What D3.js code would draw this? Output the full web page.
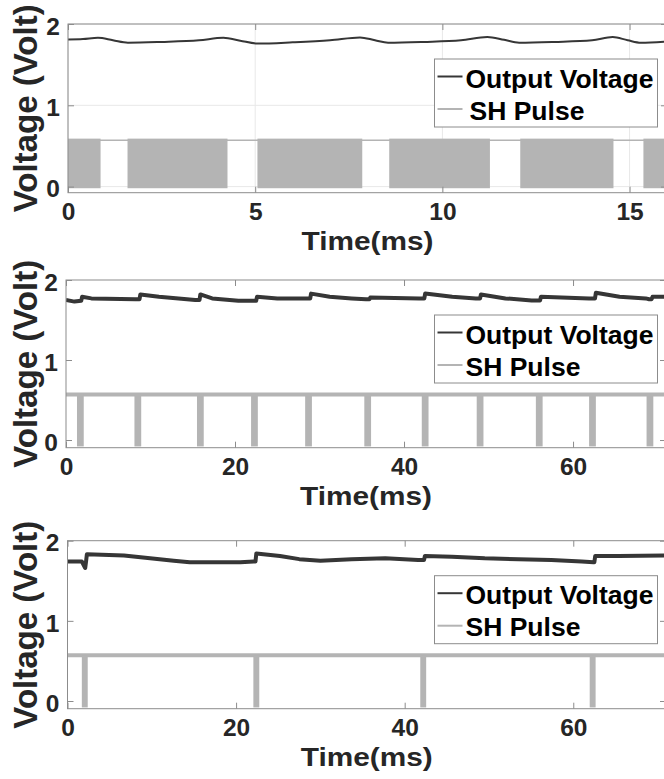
<!DOCTYPE html>
<html>
<head>
<meta charset="utf-8">
<script src="https://cdn.jsdelivr.net/npm/d3@7"></script>
<style>
    body { margin: 0; background: #fff; }
    text { font-family: "Liberation Sans", Arial, sans-serif; font-weight: bold; }
</style>
</head>
<body>
<svg width="664" height="779"></svg>
<script>
// ---- data ----
const legendLabels = ["Output Voltage", "SH Pulse"]
const yTicks = [0, 1, 2]
const xTicks1 = [0, 5, 10, 15]
const xTicks2 = [0, 20, 40, 60]
const xTicks3 = [0, 20, 40, 60]

// panel 1 (0-16 ms)
const out1Time = [0, 0.4, 0.8, 1.2, 1.6, 2.5, 3.5, 4.15, 4.6, 5.06, 6, 7, 7.8, 8.2, 8.55, 9.5, 10.5, 11.2, 11.65, 12.05, 13, 14, 14.55, 14.95, 15.3, 16]
const out1Volt = [1.81, 1.815, 1.83, 1.80, 1.77, 1.78, 1.80, 1.83, 1.795, 1.76, 1.775, 1.80, 1.835, 1.80, 1.77, 1.78, 1.80, 1.84, 1.805, 1.77, 1.78, 1.80, 1.84, 1.80, 1.77, 1.785]
// intervals where the SH pulse is switching (ms)
const bursts1 = [[0, 0.87], [1.59, 4.26], [5.06, 7.86], [8.58, 11.27], [12.08, 14.57], [15.37, 16]]

// panel 2 (0-71 ms)
const out2Time = [0, 1, 1.8, 1.9, 3, 8.2, 8.7, 8.8, 11, 15.3, 15.8, 15.9, 17.3, 20.4, 22, 22.5, 22.6, 25, 28.4, 28.9, 29, 31.2, 33.8, 35.5, 35.9, 36.0, 41.8, 42.4, 42.5, 45.7, 48.5, 49.0, 49.1, 52, 55.1, 56.1, 56.2, 61.9, 62.6, 62.7, 65.5, 68.6, 69.0, 69.3, 69.4, 71]
const out2Volt = [1.75, 1.73, 1.74, 1.79, 1.77, 1.76, 1.76, 1.82, 1.79, 1.75, 1.75, 1.82, 1.77, 1.74, 1.74, 1.74, 1.79, 1.77, 1.77, 1.77, 1.83, 1.79, 1.77, 1.76, 1.76, 1.78, 1.77, 1.77, 1.83, 1.79, 1.77, 1.77, 1.82, 1.77, 1.745, 1.745, 1.79, 1.77, 1.77, 1.84, 1.79, 1.77, 1.76, 1.76, 1.79, 1.79]
const dips2 = [1.7, 8.5, 15.9, 22.3, 28.7, 35.7, 42.5, 49.0, 56.0, 62.3, 69.1]

// panel 3 (0-71 ms)
const out3Time = [0, 1.7, 2.1, 2.2, 2.3, 6.7, 9.8, 12.6, 14.5, 20.5, 22.1, 22.3, 22.4, 25.2, 27.5, 30, 33.7, 37.7, 41.6, 42.3, 42.4, 45.6, 49.5, 53.5, 57.4, 61, 62.4, 62.5, 62.6, 65.4, 71]
const out3Volt = [1.74, 1.74, 1.66, 1.74, 1.83, 1.815, 1.78, 1.75, 1.73, 1.73, 1.74, 1.74, 1.84, 1.81, 1.77, 1.75, 1.77, 1.78, 1.76, 1.76, 1.81, 1.80, 1.78, 1.77, 1.76, 1.74, 1.73, 1.73, 1.81, 1.81, 1.815]
const dips3 = [2.05, 22.4, 42.2, 62.3]

const pulseHigh = 0.57
const burstTop = 0.59, burstBottom = -0.02
const dipBottom = -0.08

// ---- layout ----
let svg = d3.select("svg")
const outColor = "#363636", pulseColor = "#b4b4b4", axisColor = "#8c8c8c"

let panels = [
    {time: out1Time, volt: out1Volt, bursts: bursts1, dips: [], dipWidth: 0, xMax: 16, ticks: xTicks1,
        left: 68, right: 667, top: 24, bottom: 192.7, yMin: -0.075, grid: true, outWidth: 2, shift: 4},
    {time: out2Time, volt: out2Volt, bursts: [], dips: dips2, dipWidth: 0.8, xMax: 71, ticks: xTicks2,
        left: 66, right: 666, top: 280, bottom: 447.7, yMin: -0.096, grid: false, outWidth: 4, shift: 0},
    {time: out3Time, volt: out3Volt, bursts: [], dips: dips3, dipWidth: 0.7, xMax: 71, ticks: xTicks3,
        left: 67.5, right: 666, top: 540.7, bottom: 708.7, yMin: -0.096, grid: false, outWidth: 4, shift: 0}
]

svg.append("rect").attr("width", 664).attr("height", 779).attr("fill", "#fff")

panels.forEach(function (p, k) {
    let x = d3.scaleLinear().domain([0, p.xMax]).range([p.left, p.right])
    let y = d3.scaleLinear().domain([p.yMin, 2]).range([p.bottom, p.top])
    let g = svg.append("g")

    g.append("clipPath").attr("id", "clip" + k)
        .append("rect")
        .attr("x", p.left).attr("y", p.top)
        .attr("width", p.right - p.left).attr("height", p.bottom - p.top)

    // grid
    if (p.grid) {
        g.selectAll(".vgrid").data(p.ticks).enter().append("line")
            .attr("x1", function (d) { return x(d) }).attr("x2", function (d) { return x(d) })
            .attr("y1", p.top).attr("y2", p.bottom)
            .attr("stroke", "#e8e8e8").attr("stroke-width", 1)
        g.selectAll(".hgrid").data(yTicks).enter().append("line")
            .attr("x1", p.left).attr("x2", p.right)
            .attr("y1", function (d) { return y(d) }).attr("y2", function (d) { return y(d) })
            .attr("stroke", "#e8e8e8").attr("stroke-width", 1)
    }

    let plot = g.append("g").attr("clip-path", "url(#clip" + k + ")")

    // SH pulse: steady high level
    plot.append("line")
        .attr("x1", x(0)).attr("x2", x(p.xMax))
        .attr("y1", y(pulseHigh)).attr("y2", y(pulseHigh))
        .attr("stroke", pulseColor).attr("stroke-width", p.grid ? 1.5 : 4)

    // switching bursts (panel 1)
    plot.selectAll(".burst").data(p.bursts).enter().append("rect")
        .attr("x", function (d) { return x(d[0]) })
        .attr("width", function (d) { return x(d[1]) - x(d[0]) })
        .attr("y", y(burstTop))
        .attr("height", y(burstBottom) - y(burstTop))
        .attr("fill", pulseColor)

    // dips (panels 2, 3)
    plot.selectAll(".dip").data(p.dips).enter().append("rect")
        .attr("x", function (d) { return x(d - p.dipWidth / 2) })
        .attr("width", function (d) { return x(d + p.dipWidth / 2) - x(d - p.dipWidth / 2) })
        .attr("y", y(pulseHigh))
        .attr("height", y(dipBottom) - y(pulseHigh))
        .attr("fill", pulseColor)

    // output voltage
    let line = d3.line()
        .x(function (d, i) { return x(p.time[i]) })
        .y(function (d) { return y(d) })
        .curve(p.grid ? d3.curveMonotoneX : d3.curveLinear)
    plot.append("path")
        .attr("d", line(p.volt))
        .attr("fill", "none")
        .attr("stroke", outColor)
        .attr("stroke-width", p.outWidth)
        .attr("stroke-linejoin", "round")

    // box
    g.append("rect")
        .attr("x", p.left).attr("y", p.top)
        .attr("width", p.right - p.left).attr("height", p.bottom - p.top)
        .attr("fill", "none").attr("stroke", axisColor).attr("stroke-width", 1)

    // axes with inward ticks
    let ax = [
        d3.axisBottom(x).tickValues(p.ticks).tickSize(-6).tickPadding(10).tickFormat(d3.format("d")),
        d3.axisTop(x).tickValues(p.ticks).tickSize(-6).tickFormat(""),
        d3.axisLeft(y).tickValues(yTicks).tickSize(-6).tickPadding(8).tickFormat(d3.format("d")),
        d3.axisRight(y).tickValues(yTicks).tickSize(-6).tickFormat("")
    ]
    let pos = ["translate(0," + p.bottom + ")", "translate(0," + p.top + ")",
        "translate(" + p.left + ",0)", "translate(" + p.right + ",0)"]
    ax.forEach(function (a, i) {
        let ag = g.append("g").attr("transform", pos[i]).call(a)
        ag.select(".domain").remove()
        ag.selectAll("line").attr("stroke", axisColor)
        ag.selectAll("text")
            .attr("fill", "#262626")
            .style("font-size", "24.5px")
            .style("font-family", '"Liberation Sans", Arial, sans-serif')
            .style("font-weight", "bold")
        if (i === 2) ag.selectAll("text").attr("dy", "0.42em")
    })

    // axis labels
    g.append("text")
        .attr("x", (p.left + p.right) / 2)
        .attr("y", p.bottom + 57)
        .attr("text-anchor", "middle")
        .attr("fill", "#262626")
        .style("font-size", "26px")
        .attr("textLength", 132).attr("lengthAdjust", "spacingAndGlyphs")
        .text("Time(ms)")
    g.append("text")
        .attr("transform", "translate(" + 37 + "," + ((p.top + p.bottom) / 2) + ") rotate(-90)")
        .attr("text-anchor", "middle")
        .attr("fill", "#262626")
        .style("font-size", "33px")
        .attr("textLength", 208).attr("lengthAdjust", "spacingAndGlyphs")
        .text("Voltage (Volt)")

    // legend
    let lx = 434.5, ly = p.top + 35
    let lg = g.append("g")
    lg.append("rect")
        .attr("x", lx).attr("y", ly).attr("width", 223).attr("height", 68)
        .attr("fill", "#fff").attr("stroke", axisColor).attr("stroke-width", 1)
    lg.selectAll(".lline").data(legendLabels).enter().append("line")
        .attr("x1", lx + 3).attr("x2", lx + 28)
        .attr("y1", function (d, i) { return ly + 17.5 + i * 32.5 })
        .attr("y2", function (d, i) { return ly + 17.5 + i * 32.5 })
        .attr("stroke", function (d, i) { return i === 0 ? outColor : pulseColor })
        .attr("stroke-width", 2)
    lg.selectAll(".ltext").data(legendLabels).enter().append("text")
        .attr("x", function (d, i) { return lx + 31 + i * p.shift })
        .attr("y", function (d, i) { return ly + 28.5 + i * 32 })
        .attr("fill", "#000")
        .style("font-size", "26.5px")
        .text(function (d) { return d })
})
</script>
</body>
</html>
